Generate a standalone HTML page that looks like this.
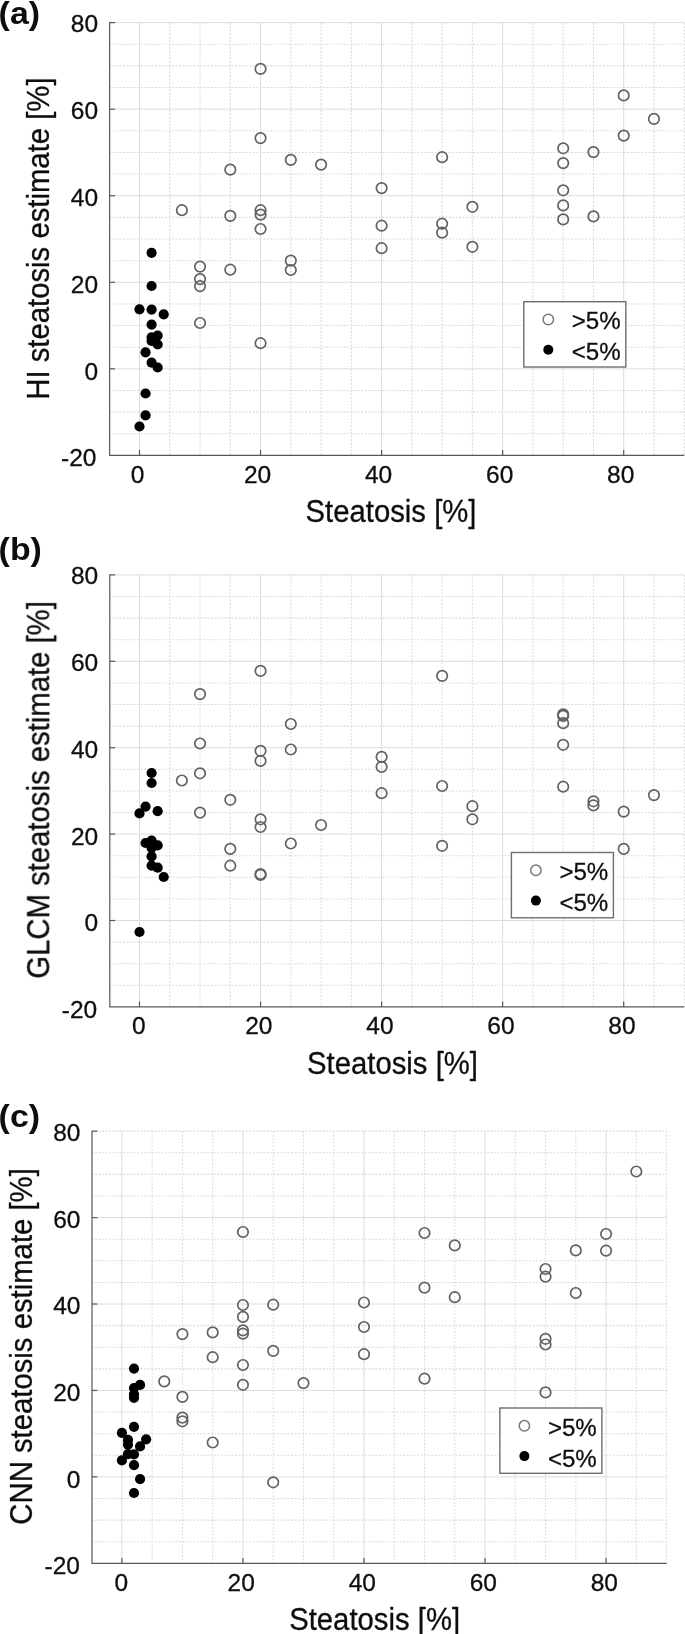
<!DOCTYPE html>
<html lang="en"><head><meta charset="utf-8"><title>Steatosis estimates</title>
<style>
html,body{margin:0;padding:0;background:#fff;}
body{width:685px;height:1634px;overflow:hidden;}
svg{display:block;font-family:"Liberation Sans",Arial,Helvetica,sans-serif;}
</style></head><body>
<svg width="685" height="1634" viewBox="0 0 685 1634">
<defs><filter id="soft" x="0" y="0" width="685" height="1634" filterUnits="userSpaceOnUse"><feGaussianBlur stdDeviation="0.42"/></filter></defs>
<rect width="685" height="1634" fill="#fff"/>
<g filter="url(#soft)">
<g id="plot-a">
<g stroke="#d9d9d9" stroke-width="1.05" stroke-dasharray="1.9 1.6" fill="none">
<line x1="169.76" y1="22.61" x2="169.76" y2="455.41"/>
<line x1="200.03" y1="22.61" x2="200.03" y2="455.41"/>
<line x1="230.29" y1="22.61" x2="230.29" y2="455.41"/>
<line x1="290.81" y1="22.61" x2="290.81" y2="455.41"/>
<line x1="321.08" y1="22.61" x2="321.08" y2="455.41"/>
<line x1="351.34" y1="22.61" x2="351.34" y2="455.41"/>
<line x1="411.86" y1="22.61" x2="411.86" y2="455.41"/>
<line x1="442.12" y1="22.61" x2="442.12" y2="455.41"/>
<line x1="472.39" y1="22.61" x2="472.39" y2="455.41"/>
<line x1="532.91" y1="22.61" x2="532.91" y2="455.41"/>
<line x1="563.17" y1="22.61" x2="563.17" y2="455.41"/>
<line x1="593.44" y1="22.61" x2="593.44" y2="455.41"/>
<line x1="653.96" y1="22.61" x2="653.96" y2="455.41"/>
<line x1="684.23" y1="22.61" x2="684.23" y2="455.41"/>
<line x1="109.24" y1="433.77" x2="684.23" y2="433.77"/>
<line x1="109.24" y1="412.13" x2="684.23" y2="412.13"/>
<line x1="109.24" y1="390.49" x2="684.23" y2="390.49"/>
<line x1="109.24" y1="347.21" x2="684.23" y2="347.21"/>
<line x1="109.24" y1="325.57" x2="684.23" y2="325.57"/>
<line x1="109.24" y1="303.93" x2="684.23" y2="303.93"/>
<line x1="109.24" y1="260.65" x2="684.23" y2="260.65"/>
<line x1="109.24" y1="239.01" x2="684.23" y2="239.01"/>
<line x1="109.24" y1="217.37" x2="684.23" y2="217.37"/>
<line x1="109.24" y1="174.09" x2="684.23" y2="174.09"/>
<line x1="109.24" y1="152.45" x2="684.23" y2="152.45"/>
<line x1="109.24" y1="130.81" x2="684.23" y2="130.81"/>
<line x1="109.24" y1="87.53" x2="684.23" y2="87.53"/>
<line x1="109.24" y1="65.89" x2="684.23" y2="65.89"/>
<line x1="109.24" y1="44.25" x2="684.23" y2="44.25"/>
</g>
<g stroke="#dcdcdc" stroke-width="1.0" fill="none">
<line x1="139.50" y1="22.61" x2="139.50" y2="455.41"/>
<line x1="260.55" y1="22.61" x2="260.55" y2="455.41"/>
<line x1="381.60" y1="22.61" x2="381.60" y2="455.41"/>
<line x1="502.65" y1="22.61" x2="502.65" y2="455.41"/>
<line x1="623.70" y1="22.61" x2="623.70" y2="455.41"/>
<line x1="109.24" y1="368.85" x2="684.23" y2="368.85"/>
<line x1="109.24" y1="282.29" x2="684.23" y2="282.29"/>
<line x1="109.24" y1="195.73" x2="684.23" y2="195.73"/>
<line x1="109.24" y1="109.17" x2="684.23" y2="109.17"/>
<line x1="109.24" y1="22.61" x2="684.23" y2="22.61"/>
</g>
<g stroke="#585858" stroke-width="1.2" fill="none">
<path d="M109.65 22.11V455.41H684.23"/>
<line x1="139.50" y1="455.41" x2="139.50" y2="450.01"/>
<line x1="260.55" y1="455.41" x2="260.55" y2="450.01"/>
<line x1="381.60" y1="455.41" x2="381.60" y2="450.01"/>
<line x1="502.65" y1="455.41" x2="502.65" y2="450.01"/>
<line x1="623.70" y1="455.41" x2="623.70" y2="450.01"/>
<line x1="109.65" y1="368.85" x2="115.05" y2="368.85"/>
<line x1="109.65" y1="282.29" x2="115.05" y2="282.29"/>
<line x1="109.65" y1="195.73" x2="115.05" y2="195.73"/>
<line x1="109.65" y1="109.17" x2="115.05" y2="109.17"/>
<line x1="109.65" y1="22.61" x2="115.05" y2="22.61"/>
</g>
<g font-size="24.5" fill="#111" stroke="#111" stroke-width="0.3">
<text x="137.60" y="482.81" text-anchor="middle">0</text>
<text x="257.55" y="482.81" text-anchor="middle">20</text>
<text x="378.60" y="482.81" text-anchor="middle">40</text>
<text x="499.65" y="482.81" text-anchor="middle">60</text>
<text x="620.70" y="482.81" text-anchor="middle">80</text>
<text x="96.45" y="466.48" text-anchor="end">-20</text>
<text x="98.05" y="379.66" text-anchor="end">0</text>
<text x="98.05" y="292.84" text-anchor="end">20</text>
<text x="98.05" y="206.02" text-anchor="end">40</text>
<text x="98.05" y="119.20" text-anchor="end">60</text>
<text x="98.05" y="32.38" text-anchor="end">80</text>
</g>
<text transform="translate(391.00 521.80) scale(1 1.045)" font-size="29.3" text-anchor="middle" fill="#111" stroke="#111" stroke-width="0.3">Steatosis [%]</text>
<text transform="translate(49.40 238.61) rotate(-90) scale(1 1.045)" font-size="29.3" text-anchor="middle" fill="#111" stroke="#111" stroke-width="0.3">HI steatosis estimate [%]</text>
<text transform="translate(-1.4 23.60) scale(1.06 1)" font-size="32" font-weight="bold" fill="#111">(a)</text>
<g fill="none" stroke="#626262" stroke-width="1.7">
<circle cx="260.55" cy="68.90" r="5.25"/>
<circle cx="260.55" cy="138.10" r="5.25"/>
<circle cx="260.55" cy="210.20" r="5.25"/>
<circle cx="260.55" cy="214.60" r="5.25"/>
<circle cx="260.55" cy="229.00" r="5.25"/>
<circle cx="260.55" cy="343.20" r="5.25"/>
<circle cx="230.29" cy="169.60" r="5.25"/>
<circle cx="230.29" cy="215.90" r="5.25"/>
<circle cx="230.29" cy="269.70" r="5.25"/>
<circle cx="290.81" cy="159.90" r="5.25"/>
<circle cx="290.81" cy="260.60" r="5.25"/>
<circle cx="290.81" cy="270.00" r="5.25"/>
<circle cx="321.08" cy="164.60" r="5.25"/>
<circle cx="181.87" cy="210.20" r="5.25"/>
<circle cx="200.03" cy="266.60" r="5.25"/>
<circle cx="200.03" cy="279.10" r="5.25"/>
<circle cx="200.03" cy="286.10" r="5.25"/>
<circle cx="200.03" cy="323.00" r="5.25"/>
<circle cx="381.60" cy="188.10" r="5.25"/>
<circle cx="381.60" cy="225.70" r="5.25"/>
<circle cx="381.60" cy="248.20" r="5.25"/>
<circle cx="442.12" cy="157.20" r="5.25"/>
<circle cx="442.12" cy="223.70" r="5.25"/>
<circle cx="442.12" cy="232.70" r="5.25"/>
<circle cx="472.39" cy="206.80" r="5.25"/>
<circle cx="472.39" cy="246.80" r="5.25"/>
<circle cx="563.17" cy="148.30" r="5.25"/>
<circle cx="563.17" cy="163.10" r="5.25"/>
<circle cx="563.17" cy="190.30" r="5.25"/>
<circle cx="563.17" cy="205.40" r="5.25"/>
<circle cx="563.17" cy="219.40" r="5.25"/>
<circle cx="593.44" cy="152.10" r="5.25"/>
<circle cx="593.44" cy="216.40" r="5.25"/>
<circle cx="623.70" cy="95.40" r="5.25"/>
<circle cx="623.70" cy="135.60" r="5.25"/>
<circle cx="653.96" cy="118.90" r="5.25"/>
</g>
<g fill="#000">
<circle cx="139.50" cy="309.30" r="5.1"/>
<circle cx="139.50" cy="426.50" r="5.1"/>
<circle cx="145.55" cy="352.30" r="5.1"/>
<circle cx="145.55" cy="393.50" r="5.1"/>
<circle cx="145.55" cy="415.40" r="5.1"/>
<circle cx="151.60" cy="252.80" r="5.1"/>
<circle cx="151.60" cy="286.00" r="5.1"/>
<circle cx="151.60" cy="309.60" r="5.1"/>
<circle cx="151.60" cy="324.60" r="5.1"/>
<circle cx="151.60" cy="337.30" r="5.1"/>
<circle cx="151.60" cy="341.00" r="5.1"/>
<circle cx="151.60" cy="362.70" r="5.1"/>
<circle cx="157.66" cy="335.60" r="5.1"/>
<circle cx="157.66" cy="344.50" r="5.1"/>
<circle cx="157.66" cy="367.50" r="5.1"/>
<circle cx="163.71" cy="314.40" r="5.1"/>
</g>
<rect x="523.80" y="301.70" width="102" height="65.3" fill="#fff" stroke="#6e6e6e" stroke-width="1.4"/>
<circle cx="548.30" cy="319.50" r="5.2" fill="#fff" stroke="#7a7a7a" stroke-width="1.5"/>
<circle cx="548.30" cy="349.80" r="5.0" fill="#000"/>
<text x="571.80" y="329.20" font-size="24.1" fill="#111" stroke="#111" stroke-width="0.3">&gt;5%</text>
<text x="571.80" y="360.20" font-size="24.1" fill="#111" stroke="#111" stroke-width="0.3">&lt;5%</text>
</g>
<g id="plot-b">
<g stroke="#d9d9d9" stroke-width="1.05" stroke-dasharray="1.9 1.6" fill="none">
<line x1="169.76" y1="574.90" x2="169.76" y2="1006.90"/>
<line x1="200.03" y1="574.90" x2="200.03" y2="1006.90"/>
<line x1="230.29" y1="574.90" x2="230.29" y2="1006.90"/>
<line x1="290.81" y1="574.90" x2="290.81" y2="1006.90"/>
<line x1="321.08" y1="574.90" x2="321.08" y2="1006.90"/>
<line x1="351.34" y1="574.90" x2="351.34" y2="1006.90"/>
<line x1="411.86" y1="574.90" x2="411.86" y2="1006.90"/>
<line x1="442.12" y1="574.90" x2="442.12" y2="1006.90"/>
<line x1="472.39" y1="574.90" x2="472.39" y2="1006.90"/>
<line x1="532.91" y1="574.90" x2="532.91" y2="1006.90"/>
<line x1="563.17" y1="574.90" x2="563.17" y2="1006.90"/>
<line x1="593.44" y1="574.90" x2="593.44" y2="1006.90"/>
<line x1="653.96" y1="574.90" x2="653.96" y2="1006.90"/>
<line x1="684.23" y1="574.90" x2="684.23" y2="1006.90"/>
<line x1="109.24" y1="985.30" x2="684.23" y2="985.30"/>
<line x1="109.24" y1="963.70" x2="684.23" y2="963.70"/>
<line x1="109.24" y1="942.10" x2="684.23" y2="942.10"/>
<line x1="109.24" y1="898.90" x2="684.23" y2="898.90"/>
<line x1="109.24" y1="877.30" x2="684.23" y2="877.30"/>
<line x1="109.24" y1="855.70" x2="684.23" y2="855.70"/>
<line x1="109.24" y1="812.50" x2="684.23" y2="812.50"/>
<line x1="109.24" y1="790.90" x2="684.23" y2="790.90"/>
<line x1="109.24" y1="769.30" x2="684.23" y2="769.30"/>
<line x1="109.24" y1="726.10" x2="684.23" y2="726.10"/>
<line x1="109.24" y1="704.50" x2="684.23" y2="704.50"/>
<line x1="109.24" y1="682.90" x2="684.23" y2="682.90"/>
<line x1="109.24" y1="639.70" x2="684.23" y2="639.70"/>
<line x1="109.24" y1="618.10" x2="684.23" y2="618.10"/>
<line x1="109.24" y1="596.50" x2="684.23" y2="596.50"/>
</g>
<g stroke="#dcdcdc" stroke-width="1.0" fill="none">
<line x1="139.50" y1="574.90" x2="139.50" y2="1006.90"/>
<line x1="260.55" y1="574.90" x2="260.55" y2="1006.90"/>
<line x1="381.60" y1="574.90" x2="381.60" y2="1006.90"/>
<line x1="502.65" y1="574.90" x2="502.65" y2="1006.90"/>
<line x1="623.70" y1="574.90" x2="623.70" y2="1006.90"/>
<line x1="109.24" y1="920.50" x2="684.23" y2="920.50"/>
<line x1="109.24" y1="834.10" x2="684.23" y2="834.10"/>
<line x1="109.24" y1="747.70" x2="684.23" y2="747.70"/>
<line x1="109.24" y1="661.30" x2="684.23" y2="661.30"/>
<line x1="109.24" y1="574.90" x2="684.23" y2="574.90"/>
</g>
<g stroke="#585858" stroke-width="1.2" fill="none">
<path d="M109.80 574.40V1006.90H684.23"/>
<line x1="139.50" y1="1006.90" x2="139.50" y2="1001.50"/>
<line x1="260.55" y1="1006.90" x2="260.55" y2="1001.50"/>
<line x1="381.60" y1="1006.90" x2="381.60" y2="1001.50"/>
<line x1="502.65" y1="1006.90" x2="502.65" y2="1001.50"/>
<line x1="623.70" y1="1006.90" x2="623.70" y2="1001.50"/>
<line x1="109.80" y1="920.50" x2="115.20" y2="920.50"/>
<line x1="109.80" y1="834.10" x2="115.20" y2="834.10"/>
<line x1="109.80" y1="747.70" x2="115.20" y2="747.70"/>
<line x1="109.80" y1="661.30" x2="115.20" y2="661.30"/>
<line x1="109.80" y1="574.90" x2="115.20" y2="574.90"/>
</g>
<g font-size="24.5" fill="#111" stroke="#111" stroke-width="0.3">
<text x="138.90" y="1034.30" text-anchor="middle">0</text>
<text x="258.85" y="1034.30" text-anchor="middle">20</text>
<text x="379.90" y="1034.30" text-anchor="middle">40</text>
<text x="500.95" y="1034.30" text-anchor="middle">60</text>
<text x="622.00" y="1034.30" text-anchor="middle">80</text>
<text x="97.20" y="1017.97" text-anchor="end">-20</text>
<text x="98.20" y="931.31" text-anchor="end">0</text>
<text x="98.20" y="844.65" text-anchor="end">20</text>
<text x="98.20" y="757.99" text-anchor="end">40</text>
<text x="98.20" y="671.33" text-anchor="end">60</text>
<text x="98.20" y="583.87" text-anchor="end">80</text>
</g>
<text transform="translate(392.50 1074.00) scale(1 1.045)" font-size="29.3" text-anchor="middle" fill="#111" stroke="#111" stroke-width="0.3">Steatosis [%]</text>
<text transform="translate(49.40 789.90) rotate(-90) scale(1 1.045)" font-size="29.3" text-anchor="middle" fill="#111" stroke="#111" stroke-width="0.3">GLCM steatosis estimate [%]</text>
<text transform="translate(-1.4 560.00) scale(1.06 1)" font-size="32" font-weight="bold" fill="#111">(b)</text>
<g fill="none" stroke="#626262" stroke-width="1.7">
<circle cx="260.55" cy="670.90" r="5.25"/>
<circle cx="260.55" cy="750.80" r="5.25"/>
<circle cx="260.55" cy="760.90" r="5.25"/>
<circle cx="260.55" cy="819.30" r="5.25"/>
<circle cx="260.55" cy="827.00" r="5.25"/>
<circle cx="260.55" cy="874.00" r="5.25"/>
<circle cx="260.55" cy="874.90" r="5.25"/>
<circle cx="200.03" cy="694.10" r="5.25"/>
<circle cx="200.03" cy="743.50" r="5.25"/>
<circle cx="200.03" cy="773.30" r="5.25"/>
<circle cx="200.03" cy="812.60" r="5.25"/>
<circle cx="290.81" cy="724.00" r="5.25"/>
<circle cx="290.81" cy="749.50" r="5.25"/>
<circle cx="290.81" cy="843.50" r="5.25"/>
<circle cx="181.87" cy="780.50" r="5.25"/>
<circle cx="230.29" cy="799.80" r="5.25"/>
<circle cx="230.29" cy="848.90" r="5.25"/>
<circle cx="230.29" cy="865.70" r="5.25"/>
<circle cx="321.08" cy="825.00" r="5.25"/>
<circle cx="442.12" cy="675.90" r="5.25"/>
<circle cx="442.12" cy="786.00" r="5.25"/>
<circle cx="442.12" cy="845.80" r="5.25"/>
<circle cx="381.60" cy="756.90" r="5.25"/>
<circle cx="381.60" cy="766.90" r="5.25"/>
<circle cx="381.60" cy="793.20" r="5.25"/>
<circle cx="472.39" cy="806.20" r="5.25"/>
<circle cx="472.39" cy="819.30" r="5.25"/>
<circle cx="563.17" cy="714.40" r="5.25"/>
<circle cx="563.17" cy="715.90" r="5.25"/>
<circle cx="563.17" cy="723.20" r="5.25"/>
<circle cx="563.17" cy="744.80" r="5.25"/>
<circle cx="563.17" cy="786.70" r="5.25"/>
<circle cx="593.44" cy="801.30" r="5.25"/>
<circle cx="593.44" cy="805.40" r="5.25"/>
<circle cx="623.70" cy="811.60" r="5.25"/>
<circle cx="623.70" cy="848.90" r="5.25"/>
<circle cx="653.96" cy="795.10" r="5.25"/>
</g>
<g fill="#000">
<circle cx="139.50" cy="813.40" r="5.1"/>
<circle cx="139.50" cy="932.00" r="5.1"/>
<circle cx="145.55" cy="806.60" r="5.1"/>
<circle cx="145.55" cy="843.00" r="5.1"/>
<circle cx="151.60" cy="773.00" r="5.1"/>
<circle cx="151.60" cy="783.00" r="5.1"/>
<circle cx="151.60" cy="840.50" r="5.1"/>
<circle cx="151.60" cy="847.90" r="5.1"/>
<circle cx="151.60" cy="856.40" r="5.1"/>
<circle cx="151.60" cy="865.60" r="5.1"/>
<circle cx="157.66" cy="811.20" r="5.1"/>
<circle cx="157.66" cy="845.40" r="5.1"/>
<circle cx="157.66" cy="867.70" r="5.1"/>
<circle cx="163.71" cy="877.00" r="5.1"/>
</g>
<rect x="511.40" y="852.50" width="102" height="65.3" fill="#fff" stroke="#6e6e6e" stroke-width="1.4"/>
<circle cx="535.90" cy="870.30" r="5.2" fill="#fff" stroke="#7a7a7a" stroke-width="1.5"/>
<circle cx="535.90" cy="900.60" r="5.0" fill="#000"/>
<text x="559.40" y="880.00" font-size="24.1" fill="#111" stroke="#111" stroke-width="0.3">&gt;5%</text>
<text x="559.40" y="911.00" font-size="24.1" fill="#111" stroke="#111" stroke-width="0.3">&lt;5%</text>
</g>
<g id="plot-c">
<g stroke="#d9d9d9" stroke-width="1.05" stroke-dasharray="1.9 1.6" fill="none">
<line x1="152.16" y1="1131.14" x2="152.16" y2="1563.34"/>
<line x1="182.42" y1="1131.14" x2="182.42" y2="1563.34"/>
<line x1="212.68" y1="1131.14" x2="212.68" y2="1563.34"/>
<line x1="273.20" y1="1131.14" x2="273.20" y2="1563.34"/>
<line x1="303.46" y1="1131.14" x2="303.46" y2="1563.34"/>
<line x1="333.72" y1="1131.14" x2="333.72" y2="1563.34"/>
<line x1="394.24" y1="1131.14" x2="394.24" y2="1563.34"/>
<line x1="424.50" y1="1131.14" x2="424.50" y2="1563.34"/>
<line x1="454.76" y1="1131.14" x2="454.76" y2="1563.34"/>
<line x1="515.28" y1="1131.14" x2="515.28" y2="1563.34"/>
<line x1="545.54" y1="1131.14" x2="545.54" y2="1563.34"/>
<line x1="575.80" y1="1131.14" x2="575.80" y2="1563.34"/>
<line x1="636.32" y1="1131.14" x2="636.32" y2="1563.34"/>
<line x1="666.58" y1="1131.14" x2="666.58" y2="1563.34"/>
<line x1="91.64" y1="1541.73" x2="666.58" y2="1541.73"/>
<line x1="91.64" y1="1520.12" x2="666.58" y2="1520.12"/>
<line x1="91.64" y1="1498.51" x2="666.58" y2="1498.51"/>
<line x1="91.64" y1="1455.29" x2="666.58" y2="1455.29"/>
<line x1="91.64" y1="1433.68" x2="666.58" y2="1433.68"/>
<line x1="91.64" y1="1412.07" x2="666.58" y2="1412.07"/>
<line x1="91.64" y1="1368.85" x2="666.58" y2="1368.85"/>
<line x1="91.64" y1="1347.24" x2="666.58" y2="1347.24"/>
<line x1="91.64" y1="1325.63" x2="666.58" y2="1325.63"/>
<line x1="91.64" y1="1282.41" x2="666.58" y2="1282.41"/>
<line x1="91.64" y1="1260.80" x2="666.58" y2="1260.80"/>
<line x1="91.64" y1="1239.19" x2="666.58" y2="1239.19"/>
<line x1="91.64" y1="1195.97" x2="666.58" y2="1195.97"/>
<line x1="91.64" y1="1174.36" x2="666.58" y2="1174.36"/>
<line x1="91.64" y1="1152.75" x2="666.58" y2="1152.75"/>
<line x1="91.64" y1="1131.14" x2="666.58" y2="1131.14"/>
</g>
<g stroke="#dcdcdc" stroke-width="1.0" fill="none">
<line x1="121.90" y1="1131.14" x2="121.90" y2="1563.34"/>
<line x1="242.94" y1="1131.14" x2="242.94" y2="1563.34"/>
<line x1="363.98" y1="1131.14" x2="363.98" y2="1563.34"/>
<line x1="485.02" y1="1131.14" x2="485.02" y2="1563.34"/>
<line x1="606.06" y1="1131.14" x2="606.06" y2="1563.34"/>
<line x1="91.64" y1="1476.90" x2="666.58" y2="1476.90"/>
<line x1="91.64" y1="1390.46" x2="666.58" y2="1390.46"/>
<line x1="91.64" y1="1304.02" x2="666.58" y2="1304.02"/>
<line x1="91.64" y1="1217.58" x2="666.58" y2="1217.58"/>
</g>
<g stroke="#585858" stroke-width="1.2" fill="none">
<path d="M92.00 1130.64V1563.34H666.58"/>
<line x1="121.90" y1="1563.34" x2="121.90" y2="1557.94"/>
<line x1="242.94" y1="1563.34" x2="242.94" y2="1557.94"/>
<line x1="363.98" y1="1563.34" x2="363.98" y2="1557.94"/>
<line x1="485.02" y1="1563.34" x2="485.02" y2="1557.94"/>
<line x1="606.06" y1="1563.34" x2="606.06" y2="1557.94"/>
<line x1="92.00" y1="1476.90" x2="97.40" y2="1476.90"/>
<line x1="92.00" y1="1390.46" x2="97.40" y2="1390.46"/>
<line x1="92.00" y1="1304.02" x2="97.40" y2="1304.02"/>
<line x1="92.00" y1="1217.58" x2="97.40" y2="1217.58"/>
<line x1="92.00" y1="1131.14" x2="97.40" y2="1131.14"/>
</g>
<g font-size="24.5" fill="#111" stroke="#111" stroke-width="0.3">
<text x="121.30" y="1590.74" text-anchor="middle">0</text>
<text x="241.24" y="1590.74" text-anchor="middle">20</text>
<text x="362.28" y="1590.74" text-anchor="middle">40</text>
<text x="483.32" y="1590.74" text-anchor="middle">60</text>
<text x="604.36" y="1590.74" text-anchor="middle">80</text>
<text x="79.90" y="1574.41" text-anchor="end">-20</text>
<text x="80.40" y="1487.71" text-anchor="end">0</text>
<text x="80.40" y="1401.01" text-anchor="end">20</text>
<text x="80.40" y="1314.31" text-anchor="end">40</text>
<text x="80.40" y="1227.61" text-anchor="end">60</text>
<text x="80.40" y="1140.91" text-anchor="end">80</text>
</g>
<text transform="translate(374.60 1629.80) scale(1 1.045)" font-size="29.3" text-anchor="middle" fill="#111" stroke="#111" stroke-width="0.3">Steatosis [%]</text>
<text transform="translate(31.90 1346.44) rotate(-90) scale(1 1.045)" font-size="29.3" text-anchor="middle" fill="#111" stroke="#111" stroke-width="0.3">CNN steatosis estimate [%]</text>
<text transform="translate(-1.4 1126.80) scale(1.06 1)" font-size="32" font-weight="bold" fill="#111">(c)</text>
<g fill="none" stroke="#626262" stroke-width="1.7">
<circle cx="242.94" cy="1232.00" r="5.25"/>
<circle cx="242.94" cy="1305.00" r="5.25"/>
<circle cx="242.94" cy="1316.90" r="5.25"/>
<circle cx="242.94" cy="1330.40" r="5.25"/>
<circle cx="242.94" cy="1333.70" r="5.25"/>
<circle cx="242.94" cy="1365.00" r="5.25"/>
<circle cx="242.94" cy="1384.80" r="5.25"/>
<circle cx="273.20" cy="1304.70" r="5.25"/>
<circle cx="273.20" cy="1350.90" r="5.25"/>
<circle cx="273.20" cy="1482.30" r="5.25"/>
<circle cx="182.42" cy="1334.10" r="5.25"/>
<circle cx="182.42" cy="1396.90" r="5.25"/>
<circle cx="182.42" cy="1417.60" r="5.25"/>
<circle cx="182.42" cy="1421.30" r="5.25"/>
<circle cx="212.68" cy="1332.40" r="5.25"/>
<circle cx="212.68" cy="1357.20" r="5.25"/>
<circle cx="212.68" cy="1442.50" r="5.25"/>
<circle cx="164.26" cy="1381.40" r="5.25"/>
<circle cx="303.46" cy="1383.10" r="5.25"/>
<circle cx="424.50" cy="1233.00" r="5.25"/>
<circle cx="424.50" cy="1287.60" r="5.25"/>
<circle cx="424.50" cy="1378.70" r="5.25"/>
<circle cx="454.76" cy="1245.40" r="5.25"/>
<circle cx="454.76" cy="1297.20" r="5.25"/>
<circle cx="363.98" cy="1302.50" r="5.25"/>
<circle cx="363.98" cy="1327.00" r="5.25"/>
<circle cx="363.98" cy="1354.20" r="5.25"/>
<circle cx="636.32" cy="1171.50" r="5.25"/>
<circle cx="606.06" cy="1234.00" r="5.25"/>
<circle cx="606.06" cy="1250.70" r="5.25"/>
<circle cx="575.80" cy="1250.40" r="5.25"/>
<circle cx="575.80" cy="1293.00" r="5.25"/>
<circle cx="545.54" cy="1269.00" r="5.25"/>
<circle cx="545.54" cy="1276.70" r="5.25"/>
<circle cx="545.54" cy="1338.80" r="5.25"/>
<circle cx="545.54" cy="1344.50" r="5.25"/>
<circle cx="545.54" cy="1392.40" r="5.25"/>
</g>
<g fill="#000">
<circle cx="121.90" cy="1432.80" r="5.1"/>
<circle cx="121.90" cy="1460.40" r="5.1"/>
<circle cx="127.95" cy="1439.90" r="5.1"/>
<circle cx="127.95" cy="1444.70" r="5.1"/>
<circle cx="127.95" cy="1454.20" r="5.1"/>
<circle cx="134.00" cy="1368.60" r="5.1"/>
<circle cx="134.00" cy="1388.00" r="5.1"/>
<circle cx="134.00" cy="1394.30" r="5.1"/>
<circle cx="134.00" cy="1397.80" r="5.1"/>
<circle cx="134.00" cy="1426.80" r="5.1"/>
<circle cx="134.00" cy="1454.30" r="5.1"/>
<circle cx="134.00" cy="1465.20" r="5.1"/>
<circle cx="134.00" cy="1493.00" r="5.1"/>
<circle cx="140.06" cy="1384.90" r="5.1"/>
<circle cx="140.06" cy="1446.40" r="5.1"/>
<circle cx="140.06" cy="1479.10" r="5.1"/>
<circle cx="146.11" cy="1439.30" r="5.1"/>
</g>
<rect x="499.90" y="1408.00" width="102" height="65.3" fill="#fff" stroke="#6e6e6e" stroke-width="1.4"/>
<circle cx="524.40" cy="1425.80" r="5.2" fill="#fff" stroke="#7a7a7a" stroke-width="1.5"/>
<circle cx="524.40" cy="1456.10" r="5.0" fill="#000"/>
<text x="547.90" y="1435.50" font-size="24.1" fill="#111" stroke="#111" stroke-width="0.3">&gt;5%</text>
<text x="547.90" y="1466.50" font-size="24.1" fill="#111" stroke="#111" stroke-width="0.3">&lt;5%</text>
</g>
</g>
</svg>
</body></html>
